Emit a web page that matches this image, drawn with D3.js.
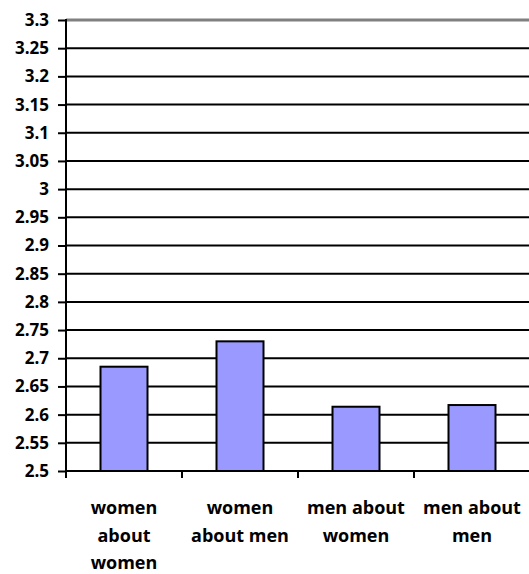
<!DOCTYPE html>
<html>
<head>
<meta charset="utf-8">
<script src="https://cdn.jsdelivr.net/npm/d3@7"></script>
<style>
  html, body { margin: 0; padding: 0; background: #fff; }
  svg { display: block; }
  text { font-family: "Open Sans", "Liberation Sans", sans-serif; font-weight: bold; fill: #000; }
</style>
</head>
<body>
<svg id="chart" width="529" height="574"></svg>
<script>
const categories = [
  ["women", "about", "women"],
  ["women", "about men"],
  ["men about", "women"],
  ["men about", "men"]
];
const values = [2.685, 2.730, 2.614, 2.617];
const yTicks = [2.5, 2.55, 2.6, 2.65, 2.7, 2.75, 2.8, 2.85, 2.9, 2.95, 3, 3.05, 3.1, 3.15, 3.2, 3.25, 3.3];

const svg = d3.select("#chart");
const plotLeft = 66, plotRight = 530, plotTop = 20, plotBottom = 471;

const band = d3.scaleBand().domain(d3.range(categories.length)).range([plotLeft, plotRight]);
const y = d3.scaleLinear().domain([2.5, 3.3]).range([plotBottom, plotTop]);
const barWidth = 47;

// horizontal gridlines, top one grey
svg.append("g").selectAll("line").data(yTicks).join("line")
  .attr("x1", plotLeft).attr("x2", 529)
  .attr("y1", d => y(d)).attr("y2", d => y(d))
  .attr("stroke", d => d === 3.3 ? "#808080" : "#000")
  .attr("stroke-width", d => d === 3.3 ? 3 : 2);

// bars
svg.append("g").selectAll("rect").data(values).join("rect")
  .attr("x", (d, i) => band(i) + band.bandwidth() / 2 - barWidth / 2)
  .attr("width", barWidth)
  .attr("y", d => y(d))
  .attr("height", d => y(2.5) - y(d))
  .attr("fill", "#9999ff")
  .attr("stroke", "#000")
  .attr("stroke-width", 2);

// y axis
const yAxis = svg.append("g").attr("transform", `translate(${plotLeft},0)`)
  .call(d3.axisLeft(y).tickValues(yTicks).tickFormat(d => String(+d.toFixed(2))).tickSize(8).tickPadding(9));
yAxis.select(".domain").remove();
yAxis.selectAll(".tick line").attr("stroke", "#000").attr("stroke-width", 2);
yAxis.selectAll(".tick text").style("font-size", "17px");
svg.append("line").attr("x1", plotLeft).attr("x2", plotLeft).attr("y1", plotTop - 1).attr("y2", plotBottom + 7)
  .attr("stroke", "#000").attr("stroke-width", 2);

// x axis line and ticks at band boundaries
svg.append("line").attr("x1", plotLeft).attr("x2", 529).attr("y1", plotBottom).attr("y2", plotBottom)
  .attr("stroke", "#000").attr("stroke-width", 2);
svg.append("g").selectAll("line").data(d3.range(1, categories.length)).join("line")
  .attr("x1", i => band(i)).attr("x2", i => band(i))
  .attr("y1", plotBottom).attr("y2", plotBottom + 7)
  .attr("stroke", "#000").attr("stroke-width", 2);

// category labels
const lab = svg.append("g").selectAll("text").data(categories).join("text")
  .attr("text-anchor", "middle")
  .style("font-size", "18px")
  .attr("x", (d, i) => band(i) + band.bandwidth() / 2)
  .attr("y", 514);
lab.selectAll("tspan").data(d => d).join("tspan")
  .attr("x", function () { return d3.select(this.parentNode).attr("x"); })
  .attr("dy", (d, i) => i === 0 ? 0 : 27.5)
  .text(d => d);
</script>
</body>
</html>
